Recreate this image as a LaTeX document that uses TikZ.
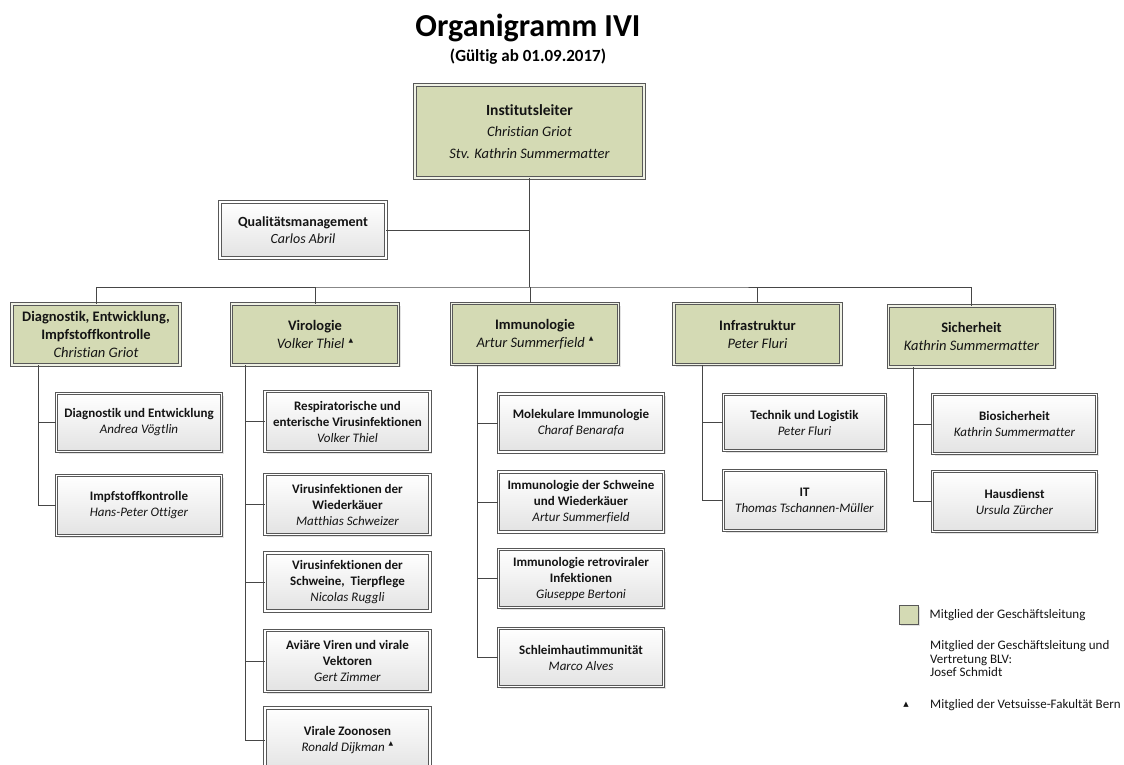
\documentclass[tikz,border=0pt]{standalone}
\usepackage{fontspec}
\setmainfont{Carlito}[Ligatures=NoCommon]
\newfontfamily\trifont{DejaVu Sans}
\usetikzlibrary{positioning,shadows}

\definecolor{glgreen}{RGB}{212,218,180}
\definecolor{rahmen}{RGB}{88,88,88}
\definecolor{linie}{RGB}{70,70,70}

\newcommand\vetmark{\hspace{4pt}\raisebox{.45em}{\trifont\fontsize{6}{6}\selectfont ▲}}

\tikzset{
  box/.style={draw=rahmen, line width=.9pt, double distance=1.6pt, align=center,
    inner sep=0pt, text=black!92,
    drop shadow={opacity=.22, shadow xshift=2pt, shadow yshift=-2pt}},
  head/.style={box, fill=glgreen, double=glgreen!35!white,
    minimum width=167pt, minimum height=61pt, font=\fontsize{14.5}{18}\selectfont},
  unit/.style={box, double=white, top color=white, bottom color=black!11,
    minimum width=165pt, minimum height=58pt, font=\fontsize{13}{16}\selectfont},
  verb/.style={draw=linie, line width=.9pt},
  legend/.style={inner sep=0pt, font=\fontsize{13}{13.5}\selectfont, text=black!92},
}

\begin{document}
\begin{tikzpicture}[x=1pt, y=-1pt]
  \useasboundingbox (0,0) rectangle (1124,765);
  \clip (0,0) rectangle (1124,765);

  % Titel
  \node[font=\bfseries\fontsize{32}{32}\selectfont] (titel) at (528,28) {Organigramm IVI};
  \node[font=\bfseries\fontsize{17}{17}\selectfont] (gueltig) at (528,57) {(Gültig ab 01.09.2017)};

  % Leitung
  \node[head, minimum width=229pt, minimum height=93pt, font=\fontsize{14.5}{21.5}\selectfont] (leiter) at (529.5,131.5)
    {\textbf{\fontsize{15.5}{21.5}\selectfont Institutsleiter}\\\textit{Christian Griot}\\\textit{Stv. Kathrin Summermatter}};
  \node[unit, minimum width=166pt, minimum height=56pt, font=\fontsize{14}{17}\selectfont] (qm) at (303,230)
    {\textbf{Qualitätsmanagement}\\\textit{Carlos Abril}};

  % Abteilungen
  \node[head, minimum width=168pt] (diag) at (96,334.5)
    {\textbf{Diagnostik, Entwicklung,}\\\textbf{Impfstoffkontrolle}\\\textit{Christian Griot}};
  \node[head] (viro) at (315,334.5) {\textbf{Virologie}\\\textit{Volker Thiel}\vetmark};
  \node[head] (immu) at (535,334) {\textbf{Immunologie}\\\textit{Artur Summerfield}\vetmark};
  \node[head] (infra) at (757.5,334) {\textbf{Infrastruktur}\\\textit{Peter Fluri}};
  \node[head, minimum width=166pt] (sich) at (971.5,336.5) {\textbf{Sicherheit}\\\textit{Kathrin Summermatter}};

  % Diagnostik
  \node[unit] (diag1) at (139,422.5) {\textbf{Diagnostik und Entwicklung}\\\textit{Andrea Vögtlin}};
  \node[unit, minimum height=60pt] (diag2) at (139,505.5) {\textbf{Impfstoffkontrolle}\\\textit{Hans-Peter Ottiger}};

  % Virologie
  \node[unit, minimum height=60pt] (viro1) at (347.5,421.5)
    {\textbf{Respiratorische und}\\\textbf{enterische Virusinfektionen}\\\textit{Volker Thiel}};
  \node[unit, minimum height=60pt] (viro2) at (347.5,504.5)
    {\textbf{Virusinfektionen der}\\\textbf{Wiederkäuer}\\\textit{Matthias Schweizer}};
  \node[unit] (viro3) at (347.5,582)
    {\textbf{Virusinfektionen der}\\\textbf{Schweine,\ \ Tierpflege}\\\textit{Nicolas Ruggli}};
  \node[unit, minimum height=61pt] (viro4) at (347.5,661)
    {\textbf{Aviäre Viren und virale}\\\textbf{Vektoren}\\\textit{Gert Zimmer}};
  \node[unit, minimum height=64pt] (viro5) at (347.5,740)
    {\textbf{Virale Zoonosen}\\\textit{Ronald Dijkman}\vetmark};

  % Immunologie
  \node[unit] (immu1) at (581,423) {\textbf{Molekulare Immunologie}\\\textit{Charaf Benarafa}};
  \node[unit, minimum height=60pt] (immu2) at (581,502)
    {\textbf{Immunologie der Schweine}\\\textbf{und Wiederkäuer}\\\textit{Artur Summerfield}};
  \node[unit] (immu3) at (581,578.5)
    {\textbf{Immunologie retroviraler}\\\textbf{Infektionen}\\\textit{Giuseppe Bertoni}};
  \node[unit] (immu4) at (581,657.5) {\textbf{Schleimhautimmunität}\\\textit{Marco Alves}};

  % Infrastruktur
  \node[unit, minimum width=162pt, minimum height=56pt] (infra1) at (804.5,422.5) {\textbf{Technik und Logistik}\\\textit{Peter Fluri}};
  \node[unit, minimum width=162pt, minimum height=60pt] (infra2) at (804.5,500.5) {\textbf{IT}\\\textit{Thomas Tschannen-Müller}};

  % Sicherheit
  \node[unit, minimum width=164pt, minimum height=59pt] (sich1) at (1014.5,424) {\textbf{Biosicherheit}\\\textit{Kathrin Summermatter}};
  \node[unit, minimum width=164pt, minimum height=60pt] (sich2) at (1014.5,501.5) {\textbf{Hausdienst}\\\textit{Ursula Zürcher}};

  % Verbindungen
  \coordinate (bus) at (530,287);
  \draw[verb] (leiter.south) -- (leiter.south |- bus);
  \draw[verb] (qm.east) -- (qm.east -| leiter.south);
  \draw[verb] (diag.north) |- (bus) -| (sich.north);
  \draw[verb] (viro.north) -- (viro.north |- bus);
  \draw[verb] (bus) -- (bus |- immu.north);
  \draw[verb] (infra.north) -- (infra.north |- bus);

  \coordinate (dsp) at (38,0);
  \coordinate (vsp) at (245,0);
  \coordinate (isp) at (477,0);
  \coordinate (fsp) at (702,0);
  \coordinate (ssp) at (913,0);

  \draw[verb] (dsp |- diag.south) |- (diag2.west);
  \draw[verb] (dsp |- diag1) -- (diag1.west);

  \draw[verb] (vsp |- viro.south) |- (viro5.west);
  \draw[verb] (vsp |- viro1) -- (viro1.west);
  \draw[verb] (vsp |- viro2) -- (viro2.west);
  \draw[verb] (vsp |- viro3) -- (viro3.west);
  \draw[verb] (vsp |- viro4) -- (viro4.west);

  \draw[verb] (isp |- immu.south) |- (immu4.west);
  \draw[verb] (isp |- immu1) -- (immu1.west);
  \draw[verb] (isp |- immu2) -- (immu2.west);
  \draw[verb] (isp |- immu3) -- (immu3.west);

  \draw[verb] (fsp |- infra.south) |- (infra2.west);
  \draw[verb] (fsp |- infra1) -- (infra1.west);

  \draw[verb] (ssp |- sich.south) |- (sich2.west);
  \draw[verb] (ssp |- sich1) -- (sich1.west);

  % Legende
  \node[draw=rahmen, line width=.9pt, fill=glgreen, minimum size=19pt, inner sep=0pt,
    drop shadow={opacity=.22, shadow xshift=1.5pt, shadow yshift=-1.5pt}] (legbox) at (908.5,615) {};
  \node[legend, right=11pt of legbox] (legtext1) {Mitglied der Geschäftsleitung};
  \node[legend, anchor=west, align=left] (legtext2) at (930,659)
    {Mitglied der Geschäftsleitung und\\Vertretung BLV:\\Josef Schmidt};
  \node[legend] (legmark) at (906,705) {\trifont\fontsize{7}{7}\selectfont ▲};
  \node[legend, anchor=west] (legtext3) at (930,705) {Mitglied der Vetsuisse-Fakultät Bern};
\end{tikzpicture}
\end{document}
